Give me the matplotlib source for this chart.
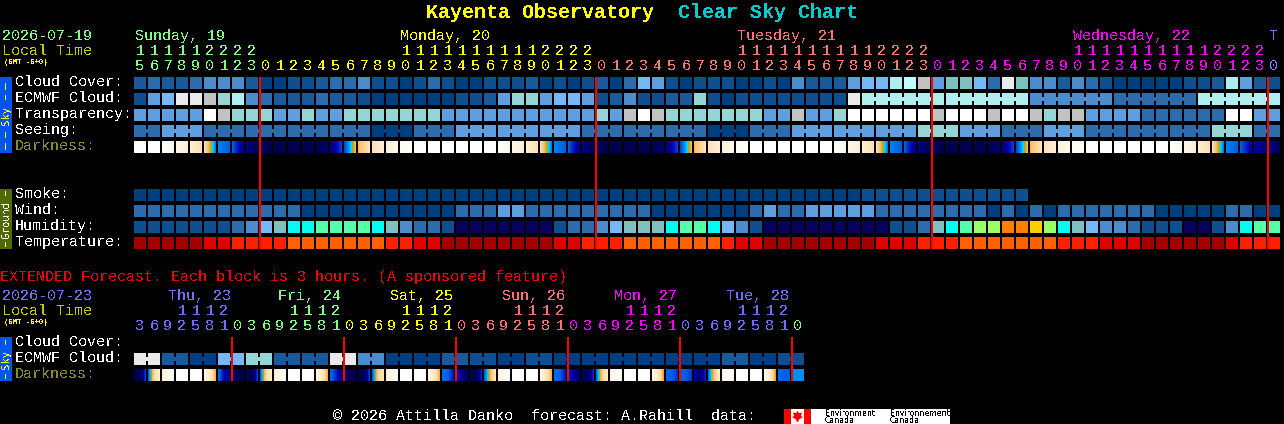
import numpy as np
import matplotlib
matplotlib.use("Agg")
import matplotlib.pyplot as plt
from matplotlib.colors import LinearSegmentedColormap
from matplotlib.patches import Rectangle, Polygon

# ---------- data ----------
title_name = "Kayenta Observatory"
title_tail = "Clear Sky Chart"
start_date = "2026-07-19"
ext_date = "2026-07-23"
day_names = [("Sunday, 19", 135), ("Monday, 20", 400), ("Tuesday, 21", 737), ("Wednesday, 22", 1073), ("T", 1269)]
ext_day_names = [("Thu, 23", 168), ("Fri, 24", 278), ("Sat, 25", 390), ("Sun, 26", 502), ("Mon, 27", 614), ("Tue, 28", 726)]
hours = [15, 16, 17, 18, 19, 20, 21, 22, 23] + list(range(24)) * 3 + [0]
ext_hours = [3, 6, 9, 12, 15, 18, 21] + [0, 3, 6, 9, 12, 15, 18, 21] * 5 + [0]

cloud_cover = "cdccdeeecaabbcddebbab" + "dbaabbbcabab" + "cadgf" + "babbb" + "aaba" + "ecccf" + "ggjklfhhgdmheecedbaaaaabbcjfcb"
ecmwf_cloud = "bfgmmlijedcccdccbaaaa" + "aabbcfiifggf" + "bcebbcc" + "ib" + "abbbbbbbb" + "m" + "jjjjjjjjjjjjeeeeeeddddddjjjjjj"
transparency = "fffffwliiiffiffiiiiii" + "i" + "fffffffffff" + "if" + "lwl" + "iiiiiii" + "ff" + "l" + "ff" + "i" + "w" + "wwwwwlwwwlwwlillffffddddddwwff"
seeing = "dd" + "fff" + "ddd" * 4 + "aaa" + "ddd" + "fff" * 3 + "ddd" * 3 + "aaa" + "ddd" + "fff" * 3 + "iii" + "fff" + "ddd" + "fff" + "ddd" * 3 + "iii" + "dd"
smoke = "a" * 52 + "b" * 12
wind = "d" * 12 + "a" * 11 + "ddd" + "ff" + "d" * 9 + "a" * 7 + "dfdd" + "ffff" + "f" + "d" * 8 + "adada" + "d" * 7 + "a" * 5 + "ddaa"
humidity = "bbbbbbbdeghttnnnnth" + "ed" + "db" + "v" * 7 + "bddeghhhtnntgeb" + "v" * 7 + "vvbbdhtnqqooyqthgeedbbbvvbetnn"
temperature = "rrrrrRRssssuuuuuuussR" + "R" + "r" * 8 + "RRsss" + "u" * 7 + "sRR" + "r" * 7 + "rRRRsss" + "u" * 7 + "sssRRR" + "r" * 6 + "Rsss"
darkness_edges = [0, 0, 0, 1, 1.5, 2.5, 5.5, 6, 7.6, 8.4, 8.8, 9, 9, 9, 7.8, 6.3, 3.6, 2.4, 1.5, .7, 0,
                  0, 0, 0, 0, 0, 0, 1, 1.5, 2.5, 5.5, 6, 7.6, 8.4, 8.8, 9, 9, 9, 7.8, 6.3, 3.6, 2.4, 1.5, .7, 0,
                  0, 0, 0, 0, 0, 0, 1, 1.5, 2.5, 5.5, 6, 7.6, 8.4, 8.8, 9, 9, 9, 7.8, 6.3, 3.6, 2.4, 1.5, .7, 0,
                  0, 0, 0, 0, 0, 0, 1, 1.5, 2.5, 5.5, 6, 7.2, 7.6, 8.2]
ext_ecmwf = "mcagicc" + "mea" + "acbabaaaaaaca" + "b"
ext_dark_start = [8.8, 6, 1.5, 0, 0, 1, 5.8, 8, 8.8, 6, 1.5, 0, 0, 1, 5.8, 8, 8.8, 6, 1.5, 0, 0, 1, 5.8, 7,
                  8.8, 6, 1.5, 0, 0, 1, 5.8, 6.6, 8.4, 5.8, 1.2, 0, 0, 1, 5.9, 6, 7, 5.8, 1, 0, 0, .8, 5.8, 5.3]
ext_dark_mid = [8.8, 2.8, .8, 0, 0, 1.8, 7, 8.8, 8.8, 2.8, .8, 0, 0, 1.8, 6.6, 8.8, 8.8, 3, .8, 0, 0, 1.8, 6, 7.5,
                8.8, 3.8, .6, 0, 0, 2, 6, 7.4, 8.6, 3.2, .5, 0, 0, 1.8, 6, 6, 8, 3.4, .4, 0, 0, 1.8, 6, 5.3]
ext_dark_end = [6.3, 1.5, 0, 0, 0, 3.8, 7.6, 8.8, 6.3, 1.5, 0, 0, 0, 3.8, 7.6, 8.6, 6.2, 2, 0, 0, 0, 3.8, 6.8, 8.4,
                6.5, 2, 0, 0, 0, 3.8, 6.8, 8.2, 6.5, 1.8, 0, 0, 0, 4, 6.5, 6.4, 6.6, 1.6, 0, 0, 0, 4.1, 6, 5.3]

# ---------- styles ----------
palette = dict(a="#003F7F", b="#0F4F8F", c="#1A5A9A", d="#2C6CAC", e="#4C8CCC", f="#5F9FDF", g="#77B7F7",
               h="#80C0C0", i="#95D5D5", j="#AEEEEE", k="#BEFEFE", l="#C2C2C2", m="#EAEAEA", w="#FFFFFF",
               v="#08005C", t="#00FFF0", n="#55FFAA", q="#99FF66", o="#FF8000", y="#FFCC00",
               r="#A50000", R="#E00000", s="#FF2000", u="#FF6000")
GREEN, YELLOW, SALMON, MAGENTA, BLUE = "#80FF80", "#FFFF00", "#FF7070", "#FF00FF", "#7070FF"
MONO = "Liberation Mono"
PT = 10.8
dark_stops = [(0, "#FFFFFF"), (1, "#FFF6E8"), (1.5, "#FFEFD5"), (2.5, "#FFE0B0"), (3.5, "#FFC070"), (4, "#FFA000"),
              (4.3, "#90B020"), (4.6, "#00E0FF"), (5.3, "#0090F0"), (5.5, "#0080F0"), (6, "#0060E0"),
              (7, "#0000B0"), (8, "#000066"), (9, "#00004C")]
dark_cmap = LinearSegmentedColormap.from_list("dark", [(v / 9, c) for v, c in dark_stops], N=1024)

fig = plt.figure(figsize=(12.84, 4.24), dpi=100, facecolor="black")
ax = fig.add_axes([0, 0, 1, 1], facecolor="black")
ax.axis("off")


def txt(x, y, s, color="white", size=PT, weight="normal", ha="left", rotation=0, family=MONO):
    ax.text(x, y + 0.7, s, color=color, fontsize=size, fontweight=weight, family=family, ha=ha, va="center",
            rotation=rotation, antialiased=False)


def rect(x, y, w, h, color, z=2):
    ax.add_patch(Rectangle((x, y), w, h, facecolor=color, edgecolor="none", antialiased=False, zorder=z))


X0, PITCH, CELL = 134, 14, 12


def row(values, y, blocks=None):
    for i, v in enumerate(values):
        x = X0 + PITCH * i
        rect(x, y, CELL, CELL, palette[v])
        if blocks and i + 1 < len(values) and blocks[i] == blocks[i + 1]:
            rect(x + CELL, y + 4, PITCH - CELL, 4, palette[v])


def strip(values_fn, n, y):
    for i in range(n):
        x = X0 + PITCH * i
        vals = values_fn(i)
        ax.imshow(dark_cmap(np.array(vals)[None, :] / 9), extent=[x, x + CELL, y + CELL, y],
                  interpolation="nearest", aspect="auto", zorder=2)


# title
txt(426, 12, title_name, YELLOW, 14.4, "bold")
txt(678, 12, title_tail, "#00CCCC", 14.4, "bold")

# header, main chart
txt(2, 35, start_date, GREEN)
txt(2, 50, "Local Time", "#C8C800")
txt(4, 62, "(GMT -6+0)", YELLOW, 5.2, "bold")
for (name, x), c in zip(day_names, [GREEN, YELLOW, SALMON, MAGENTA, BLUE]):
    txt(x, 35, name, c)


def hour_color(i):
    if i < 9:
        return GREEN
    if i < 33:
        return YELLOW
    if i < 57:
        return "#FF7868"
    if i < 81:
        return MAGENTA
    return "#6C90FF"


for i, h in enumerate(hours):
    cx = X0 + PITCH * i + 6
    if h >= 10:
        txt(cx, 50, str(h // 10), hour_color(i), ha="center")
    txt(cx, 65, str(h % 10), hour_color(i), ha="center")

# rows, main chart
sky_labels = ["Cloud Cover:", "ECMWF Cloud:", "Transparency:", "Seeing:"]
for j, lab in enumerate(sky_labels):
    txt(15, 81 + 16 * j, lab)
txt(15, 145, "Darkness:", "#8A8A2A")
for j, lab in enumerate(["Smoke:", "Wind:", "Humidity:", "Temperature:"]):
    txt(15, 193 + 16 * j, lab)

ecmwf_blocks = list(range(52)) + [1000 + (i // 6) for i in range(30)]
seeing_blocks = [(i + 1) // 3 for i in range(82)]
row(cloud_cover, 77)
row(ecmwf_cloud, 93, ecmwf_blocks)
row(transparency, 109)
row(seeing, 125, seeing_blocks)
strip(lambda i: np.linspace(darkness_edges[i], darkness_edges[i + 1], CELL), 82, 141)
row(smoke, 189)
row(wind, 205)
row(humidity, 221)
row(temperature, 237)

for i, h in enumerate(hours):
    if h == 0:
        rect(X0 + PITCH * i - 1, 77, 2, 172, "#FF0000", z=4)

# side bars
rect(0, 77, 12, 76, "#0055EE")
txt(6, 115, "Sky", YELLOW, 7.6, ha="center", rotation=90, family="DejaVu Sans Mono")
for a, b in [(83, 90), (95, 100), (132, 138), (143, 150)]:
    rect(5, a, 1, b - a, YELLOW, z=3)
rect(0, 189, 12, 60, "#4F6B00")
txt(6, 219, "Ground", "white", 7.4, ha="center", rotation=90, family="DejaVu Sans Mono")
for a, b in [(191, 196), (242, 247)]:
    rect(5, a, 1, b - a, "white", z=3)

# extended forecast
txt(0, 276, "EXTENDED Forecast. Each block is 3 hours. (A sponsored feature)", "#F00000")
txt(2, 295, ext_date, BLUE)
txt(2, 310, "Local Time", "#C8C800")
txt(4, 322, "(GMT -6+0)", YELLOW, 5.2, "bold")
for (name, x), c in zip(ext_day_names, [BLUE, GREEN, YELLOW, SALMON, MAGENTA, BLUE]):
    txt(x, 295, name, c)
ext_cols = [BLUE] * 7 + [GREEN] * 8 + [YELLOW] * 8 + [SALMON] * 8 + [MAGENTA] * 8 + [BLUE] * 8 + [GREEN]
for i, h in enumerate(ext_hours):
    cx = X0 + PITCH * i + 6
    if h >= 10:
        txt(cx, 310, str(h // 10), ext_cols[i], ha="center")
    txt(cx, 325, str(h % 10), ext_cols[i], ha="center")
txt(15, 341, "Cloud Cover:")
txt(15, 357, "ECMWF Cloud:")
txt(15, 373, "Darkness:", "#8A8A2A")

row("".join(c * 2 for c in ext_ecmwf), 353, [i // 2 for i in range(48)])
strip(lambda i: np.interp(np.linspace(0, 1, CELL), [0, .5, 1],
                          [ext_dark_start[i], ext_dark_mid[i], ext_dark_end[i]]), 48, 369)
for i, h in enumerate(ext_hours):
    if h == 0:
        rect(X0 + PITCH * i - 1, 337, 2, 44, "#FF0000", z=4)
rect(0, 337, 12, 44, "#0055EE")
txt(6, 359, "Sky", YELLOW, 7.6, ha="center", rotation=90, family="DejaVu Sans Mono")
for a, b in [(340, 345), (374, 379)]:
    rect(5, a, 1, b - a, YELLOW, z=3)

# footer
txt(333, 415, "\u00a9 2026 Attilla Danko  forecast: A.Rahill  data:")
rect(784, 409, 166, 15, "white")
rect(784, 409, 7, 15, "#FF0000", z=3)
rect(804, 409, 7, 15, "#FF0000", z=3)
ax.add_patch(Polygon([(797.5, 411), (799, 413), (802, 412.5), (801, 416), (803, 417), (799, 419.5), (798, 422),
                      (797, 422), (796, 419.5), (792, 417), (794, 416), (793, 412.5), (796, 413)],
                     facecolor="#FF0000", edgecolor="none", zorder=3))
txt(825, 412.5, "Environment", "black", 5.6, family="DejaVu Sans")
txt(825, 419.5, "Canada", "black", 5.6, family="DejaVu Sans")
txt(890, 412.5, "Environnement", "black", 5.6, family="DejaVu Sans")
txt(890, 419.5, "Canada", "black", 5.6, family="DejaVu Sans")

ax.set_xlim(0, 1284)
ax.set_ylim(424, 0)
fig.savefig("out.png", dpi=100, facecolor="black")
